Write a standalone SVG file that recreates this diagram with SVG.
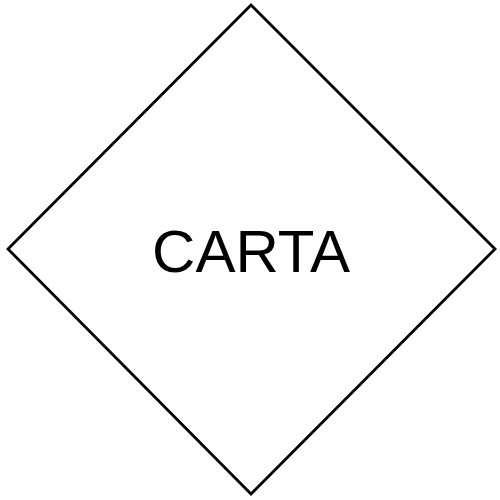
<svg xmlns="http://www.w3.org/2000/svg" width="500" height="500" viewBox="0 0 500 500">
<style>
.shape{fill:#ffffff;stroke:#000000;stroke-width:2.8}
.label{font-family:"Liberation Sans",Arial,sans-serif;font-size:60px;fill:#000000;text-anchor:middle}
</style>
<rect width="500" height="500" fill="#ffffff"/>
<g id="node-carta">
<polygon class="shape" points="251,5 495,249 251,494 8,249"/>
<text class="label" x="251" y="272">CARTA</text>
</g>
<g id="connectors"></g>
</svg>
